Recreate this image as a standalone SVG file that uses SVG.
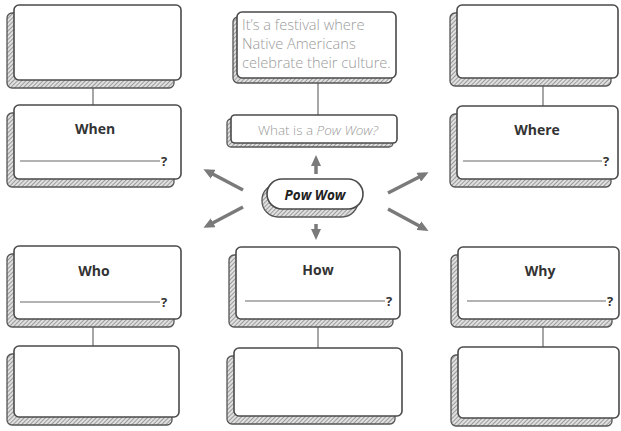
<svg xmlns="http://www.w3.org/2000/svg" width="621" height="431" viewBox="0 0 621 431">
<style>
.back{fill:url(#hatch);stroke:#555;stroke-width:1.3}
.front{fill:#fff;stroke:#4a4a4a;stroke-width:1.6}
.conn{stroke:#888;stroke-width:1.5;fill:none}
.arrow{stroke:#7a7a7a;stroke-width:3.5;fill:none;marker-end:url(#ah)}
.lbl{font-family:"Open Sans","Liberation Sans",sans-serif;font-weight:700;font-size:14px;fill:#333;text-anchor:middle}
.q{font-family:"Open Sans","Liberation Sans",sans-serif;font-weight:700;font-size:13px;fill:#333}
.ul{stroke:#9a9a9a;stroke-width:1.5}
.note{font-family:"Open Sans","Liberation Sans",sans-serif;font-weight:300;font-size:14.6px;fill:#9a9a9a}
</style>
<defs>
<pattern id="hatch" patternUnits="userSpaceOnUse" width="3" height="3" patternTransform="rotate(45)">
<rect width="3" height="3" fill="#e0e0e0"/>
<line x1="0" y1="0" x2="0" y2="3" stroke="#6a6a6a" stroke-width="1.2"/>
</pattern>
<marker id="ah" markerUnits="userSpaceOnUse" markerWidth="11" markerHeight="10" refX="7" refY="5" orient="auto">
<path d="M0,0 L11,5 L0,10 z" fill="#7a7a7a"/>
</marker>
</defs>
<rect width="621" height="431" fill="#fff"/>

<g id="connectors">
<line class="conn" x1="93" y1="88" x2="93" y2="105"/>
<line class="conn" x1="93" y1="327" x2="93" y2="346"/>
<line class="conn" x1="318" y1="78" x2="318" y2="115"/>
<line class="conn" x1="318" y1="327" x2="318" y2="348"/>
<line class="conn" x1="543" y1="86" x2="543" y2="106"/>
<line class="conn" x1="543" y1="327" x2="543" y2="347"/>
<line class="arrow" x1="316" y1="174" x2="316" y2="159"/>
<line class="arrow" x1="316" y1="224" x2="316" y2="236"/>
<line class="arrow" x1="243" y1="190" x2="207" y2="171"/>
<line class="arrow" x1="243" y1="207" x2="207" y2="226"/>
<line class="arrow" x1="388" y1="193" x2="425" y2="174"/>
<line class="arrow" x1="388" y1="209" x2="425" y2="229"/>
</g>

<g id="box-L1"><rect class="back" x="7" y="13" width="167" height="75" rx="5"/><rect class="front" x="14" y="5" width="167" height="75" rx="5"/></g>
<g id="box-when"><rect class="back" x="7" y="113" width="167" height="74" rx="5"/><rect class="front" x="14" y="105" width="167" height="74" rx="5"/>
<text class="lbl" x="95" y="134">When</text><line class="ul" x1="20" y1="161" x2="160" y2="161"/><text class="q" x="161" y="166">?</text></g>
<g id="box-who"><rect class="back" x="7" y="254" width="167" height="73" rx="5"/><rect class="front" x="14" y="246" width="167" height="73" rx="5"/>
<text class="lbl" x="94" y="276">Who</text><line class="ul" x1="20" y1="302" x2="160" y2="302"/><text class="q" x="161" y="307">?</text></g>
<g id="box-L4"><rect class="back" x="7" y="354" width="165" height="71" rx="5"/><rect class="front" x="14" y="346" width="165" height="71" rx="5"/></g>

<g id="box-answer"><rect class="back" x="233" y="17" width="159" height="66" rx="5"/><rect class="front" x="237" y="12" width="159" height="66" rx="5"/>
<text class="note" x="242" y="30">It’s a festival where</text>
<text class="note" x="242" y="49">Native Americans</text>
<text class="note" x="242" y="68">celebrate their culture.</text></g>
<g id="box-question"><rect class="back" x="227" y="119" width="166" height="28" rx="4"/><rect class="front" x="231" y="115" width="166" height="28" rx="4"/>
<text class="note" x="318" y="135" text-anchor="middle" style="font-size:13.5px">What is a <tspan font-style="italic">Pow Wow?</tspan></text></g>

<g id="node-powwow"><rect class="back" x="262" y="184" width="96" height="33" rx="16"/><rect class="front" x="267" y="179" width="96" height="30" rx="15"/>
<text x="315" y="200" text-anchor="middle" font-family="Open Sans, Liberation Sans, sans-serif" font-weight="700" font-style="italic" font-size="13.5" fill="#222">Pow Wow</text></g>

<g id="box-how"><rect class="back" x="229" y="255" width="164" height="72" rx="5"/><rect class="front" x="236" y="247" width="164" height="72" rx="5"/>
<text class="lbl" x="318" y="275">How</text><line class="ul" x1="245" y1="301" x2="385" y2="301"/><text class="q" x="386" y="306">?</text></g>
<g id="box-C4"><rect class="back" x="227" y="356" width="168" height="68" rx="5"/><rect class="front" x="234" y="348" width="168" height="68" rx="5"/></g>

<g id="box-R1"><rect class="back" x="450" y="13" width="161" height="73" rx="5"/><rect class="front" x="457" y="5" width="161" height="73" rx="5"/></g>
<g id="box-where"><rect class="back" x="450" y="114" width="161" height="73" rx="5"/><rect class="front" x="457" y="106" width="161" height="73" rx="5"/>
<text class="lbl" x="537" y="135">Where</text><line class="ul" x1="463" y1="161" x2="602" y2="161"/><text class="q" x="603" y="166">?</text></g>
<g id="box-why"><rect class="back" x="451" y="255" width="161" height="72" rx="5"/><rect class="front" x="458" y="247" width="161" height="72" rx="5"/>
<text class="lbl" x="540" y="276">Why</text><line class="ul" x1="467" y1="301" x2="606" y2="301"/><text class="q" x="607" y="306">?</text></g>
<g id="box-R4"><rect class="back" x="451" y="355" width="161" height="71" rx="5"/><rect class="front" x="458" y="347" width="161" height="71" rx="5"/></g>
</svg>
